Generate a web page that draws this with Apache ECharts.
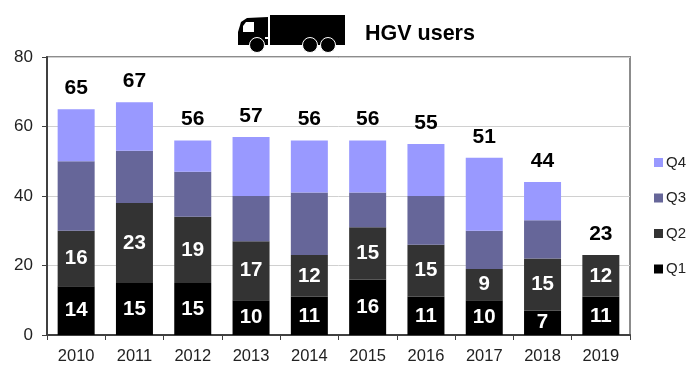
<!DOCTYPE html>
<html>
<head>
<meta charset="utf-8">
<title>HGV users</title>
<script src="https://cdn.jsdelivr.net/npm/echarts@6/dist/echarts.min.js"></script>
<style>
html, body { margin: 0; padding: 0; background: #fff; }
#chart { width: 700px; height: 390px; }
</style>
</head>
<body>
<div id="chart"></div>
<script>
const years = ['2010', '2011', '2012', '2013', '2014', '2015', '2016', '2017', '2018', '2019'];
const q1 = [14, 15, 15, 10, 11, 16, 11, 10, 7, 11];
const q2 = [16, 23, 19, 17, 12, 15, 15, 9, 15, 12];
const q3 = [20, 15, 13, 13, 18, 10, 14, 11, 11, 0];
const q4 = [15, 14, 9, 17, 15, 15, 15, 21, 11, 0];
const totals = [65, 67, 56, 57, 56, 56, 55, 51, 44, 23];
const yTicks = [0, 20, 40, 60, 80];

const font = '"Liberation Sans", Arial, sans-serif';

function barSeries(name, data, color, showLabel) {
    return {
        name: name,
        type: 'bar',
        stack: 'users',
        barWidth: 37,
        data: data,
        itemStyle: { color: color },
        label: {
            show: showLabel,
            position: 'inside',
            color: '#fff',
            fontFamily: font,
            fontWeight: 'bold',
            fontSize: 20.5
        }
    };
}

const chart = echarts.init(document.getElementById('chart'), null, { renderer: 'canvas' });
chart.setOption({
    animation: false,
    backgroundColor: '#fff',
    textStyle: { fontFamily: font },
    grid: {
        left: 47, top: 57, width: 583, height: 278,
        show: true, borderColor: '#8c8c8c', borderWidth: 2, backgroundColor: 'transparent'
    },
    legend: {
        orient: 'vertical',
        left: 649,
        top: 150,
        itemWidth: 9,
        itemHeight: 9,
        itemGap: 20.5,
        icon: 'rect',
        data: ['Q4', 'Q3', 'Q2', 'Q1'],
        textStyle: { fontFamily: font, fontSize: 15, color: '#222', padding: [0, 0, 0, -2] }
    },
    xAxis: {
        type: 'category',
        data: years,
        axisLine: { lineStyle: { color: '#404040', width: 2 } },
        axisTick: { show: true, length: 5, alignWithLabel: false, lineStyle: { color: '#404040', width: 1 } },
        axisLabel: { color: '#222', fontFamily: font, fontSize: 16.5, margin: 13 },
        splitLine: { show: false }
    },
    yAxis: {
        type: 'value',
        min: 0,
        max: 80,
        interval: yTicks[1] - yTicks[0],
        axisLine: { show: true, lineStyle: { color: '#404040', width: 2 } },
        axisTick: { show: true, length: 5, lineStyle: { color: '#404040', width: 1 } },
        axisLabel: { color: '#222', fontFamily: font, fontSize: 17, margin: 14 },
        splitLine: { show: true, lineStyle: { color: '#d0d0d0', width: 1 } }
    },
    series: [
        barSeries('Q1', q1, '#000000', true),
        barSeries('Q2', q2, '#333333', true),
        barSeries('Q3', q3, '#666699', false),
        barSeries('Q4', q4, '#9999ff', false),
        {
            // invisible line, only carries the total labels
            name: 'Total',
            type: 'line',
            data: totals,
            symbol: 'circle',
            symbolSize: 1,
            showAllSymbol: true,
            itemStyle: { color: 'transparent' },
            lineStyle: { opacity: 0 },
            label: {
                show: true,
                position: 'top',
                distance: 10,
                color: '#000',
                fontFamily: font,
                fontWeight: 'bold',
                fontSize: 21
            }
        }
    ],
    graphic: [
        { type: 'rect', shape: { x: 270, y: 15, width: 75, height: 30 }, style: { fill: '#000' } },
        {
            type: 'polygon',
            shape: { points: [[238, 45], [238, 32], [241, 22], [247, 18], [268, 17], [268, 45]] },
            style: { fill: '#000' }
        },
        {
            type: 'polygon',
            shape: { points: [[243, 32], [243, 26], [246, 22], [254, 22], [254, 32]] },
            style: { fill: '#fff' }
        },
        { type: 'rect', shape: { x: 268, y: 15, width: 2, height: 24 }, style: { fill: '#fff' } },
        { type: 'rect', shape: { x: 265, y: 37, width: 5, height: 2 }, style: { fill: '#fff' } },
        { type: 'circle', shape: { cx: 257, cy: 45, r: 7.5 }, style: { fill: '#000', stroke: '#fff', lineWidth: 1 } },
        { type: 'circle', shape: { cx: 310, cy: 45, r: 7.5 }, style: { fill: '#000', stroke: '#fff', lineWidth: 1 } },
        { type: 'circle', shape: { cx: 328, cy: 45, r: 7.5 }, style: { fill: '#000', stroke: '#fff', lineWidth: 1 } },
        {
            type: 'text',
            left: 365,
            top: 23,
            style: { text: 'HGV users', fill: '#000', font: 'bold 21.5px ' + font }
        }
    ]
});
</script>
</body>
</html>
